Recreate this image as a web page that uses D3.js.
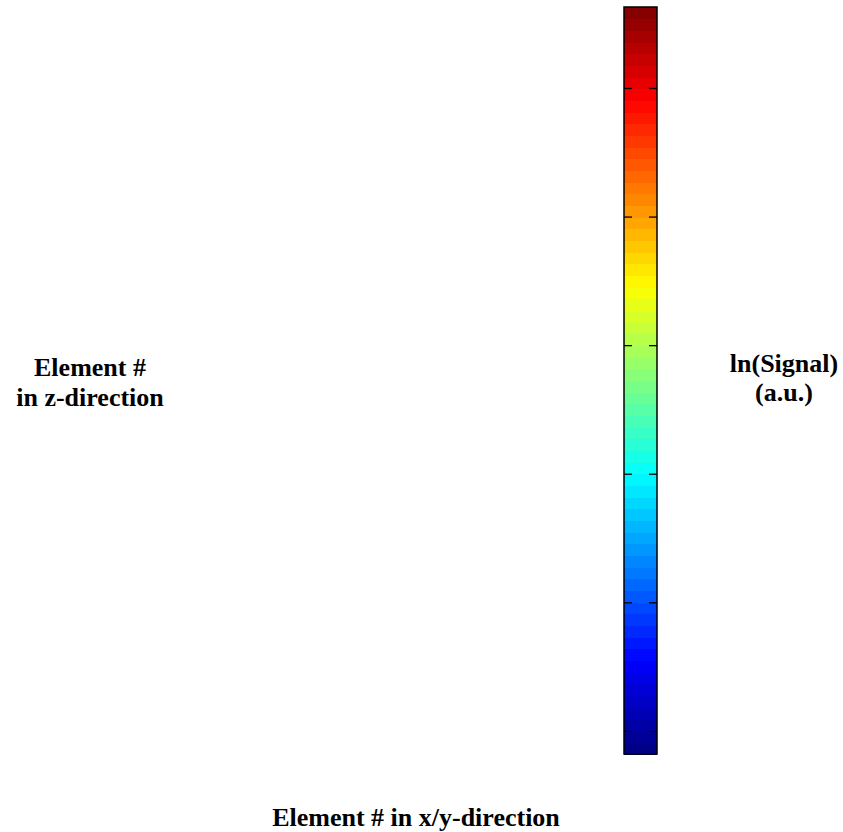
<!DOCTYPE html>
<html>
<head>
<meta charset="utf-8">
<script src="https://cdn.jsdelivr.net/npm/d3@7"></script>
<style>
  html, body { margin: 0; padding: 0; background: #fff; }
  svg { display: block; }
  text { font-family: "Liberation Serif", "Times New Roman", serif; font-weight: bold; fill: #000; }
</style>
</head>
<body>
<script>
// ---- data ----
const colorDomain = [0.82, 6.63];          // ln(Signal) range of colour bar
const tickValues = [1, 2, 3, 4, 5, 6];     // colour-bar ticks (labels hidden in the original)
const nColors = 64;                         // discrete jet levels
const yLabelLines = ["Element #", "in z-direction"];
const cLabelLines = ["ln(Signal)", "(a.u.)"];
const xLabel = "Element # in x/y-direction";

// ---- layout ----
const W = 843, H = 832;
const bar = { x0: 624, x1: 657, y0: 7, y1: 754 };

const svg = d3.select("body").append("svg").attr("width", W).attr("height", H);

// jet colormap (MATLAB style)
function jet(t) {
  const r = Math.max(0, Math.min(1, 1.5 - Math.abs(4 * t - 3)));
  const g = Math.max(0, Math.min(1, 1.5 - Math.abs(4 * t - 2)));
  const b = Math.max(0, Math.min(1, 1.5 - Math.abs(4 * t - 1)));
  return d3.rgb(r * 255, g * 255, b * 255).toString();
}

const yScale = d3.scaleLinear().domain(colorDomain).range([bar.y1, bar.y0]);
const levels = d3.range(nColors);
const step = (colorDomain[1] - colorDomain[0]) / nColors;

const gBar = svg.append("g");
gBar.selectAll("rect.lvl").data(levels).enter().append("rect")
  .attr("class", "lvl")
  .attr("x", bar.x0)
  .attr("width", bar.x1 - bar.x0)
  .attr("y", d => yScale(colorDomain[0] + (d + 1) * step))
  .attr("height", d => yScale(colorDomain[0] + d * step) - yScale(colorDomain[0] + (d + 1) * step) + 0.5)
  .attr("fill", d => jet((d + 0.5) / nColors))
  .attr("shape-rendering", "crispEdges");

// ticks inward on both sides
const tickLen = 8;
const axR = d3.axisLeft(yScale).tickValues(tickValues).tickSize(tickLen).tickFormat("");
const axL = d3.axisRight(yScale).tickValues(tickValues).tickSize(tickLen).tickFormat("");
const gR = gBar.append("g").attr("transform", `translate(${bar.x1},0)`).call(axR);
const gL = gBar.append("g").attr("transform", `translate(${bar.x0},0)`).call(axL);
[gR, gL].forEach(g => {
  g.select(".domain").remove();
  g.selectAll(".tick line").attr("stroke", "#000").attr("stroke-width", 1.3);
});

gBar.append("rect")
  .attr("x", bar.x0).attr("y", bar.y0)
  .attr("width", bar.x1 - bar.x0).attr("height", bar.y1 - bar.y0)
  .attr("fill", "none").attr("stroke", "#000").attr("stroke-width", 1.5);

// labels
const fs = 26;
const yl = svg.append("text").attr("text-anchor", "middle").attr("font-size", fs);
yLabelLines.forEach((s, i) => yl.append("tspan").attr("x", 90).attr("y", 376 + i * 30).text(s));

const cl = svg.append("text").attr("text-anchor", "middle").attr("font-size", fs);
cLabelLines.forEach((s, i) => cl.append("tspan").attr("x", 784).attr("y", 372 + i * 29).text(s));

svg.append("text").attr("text-anchor", "middle").attr("font-size", fs)
  .attr("x", 416).attr("y", 826).text(xLabel);
</script>
</body>
</html>
